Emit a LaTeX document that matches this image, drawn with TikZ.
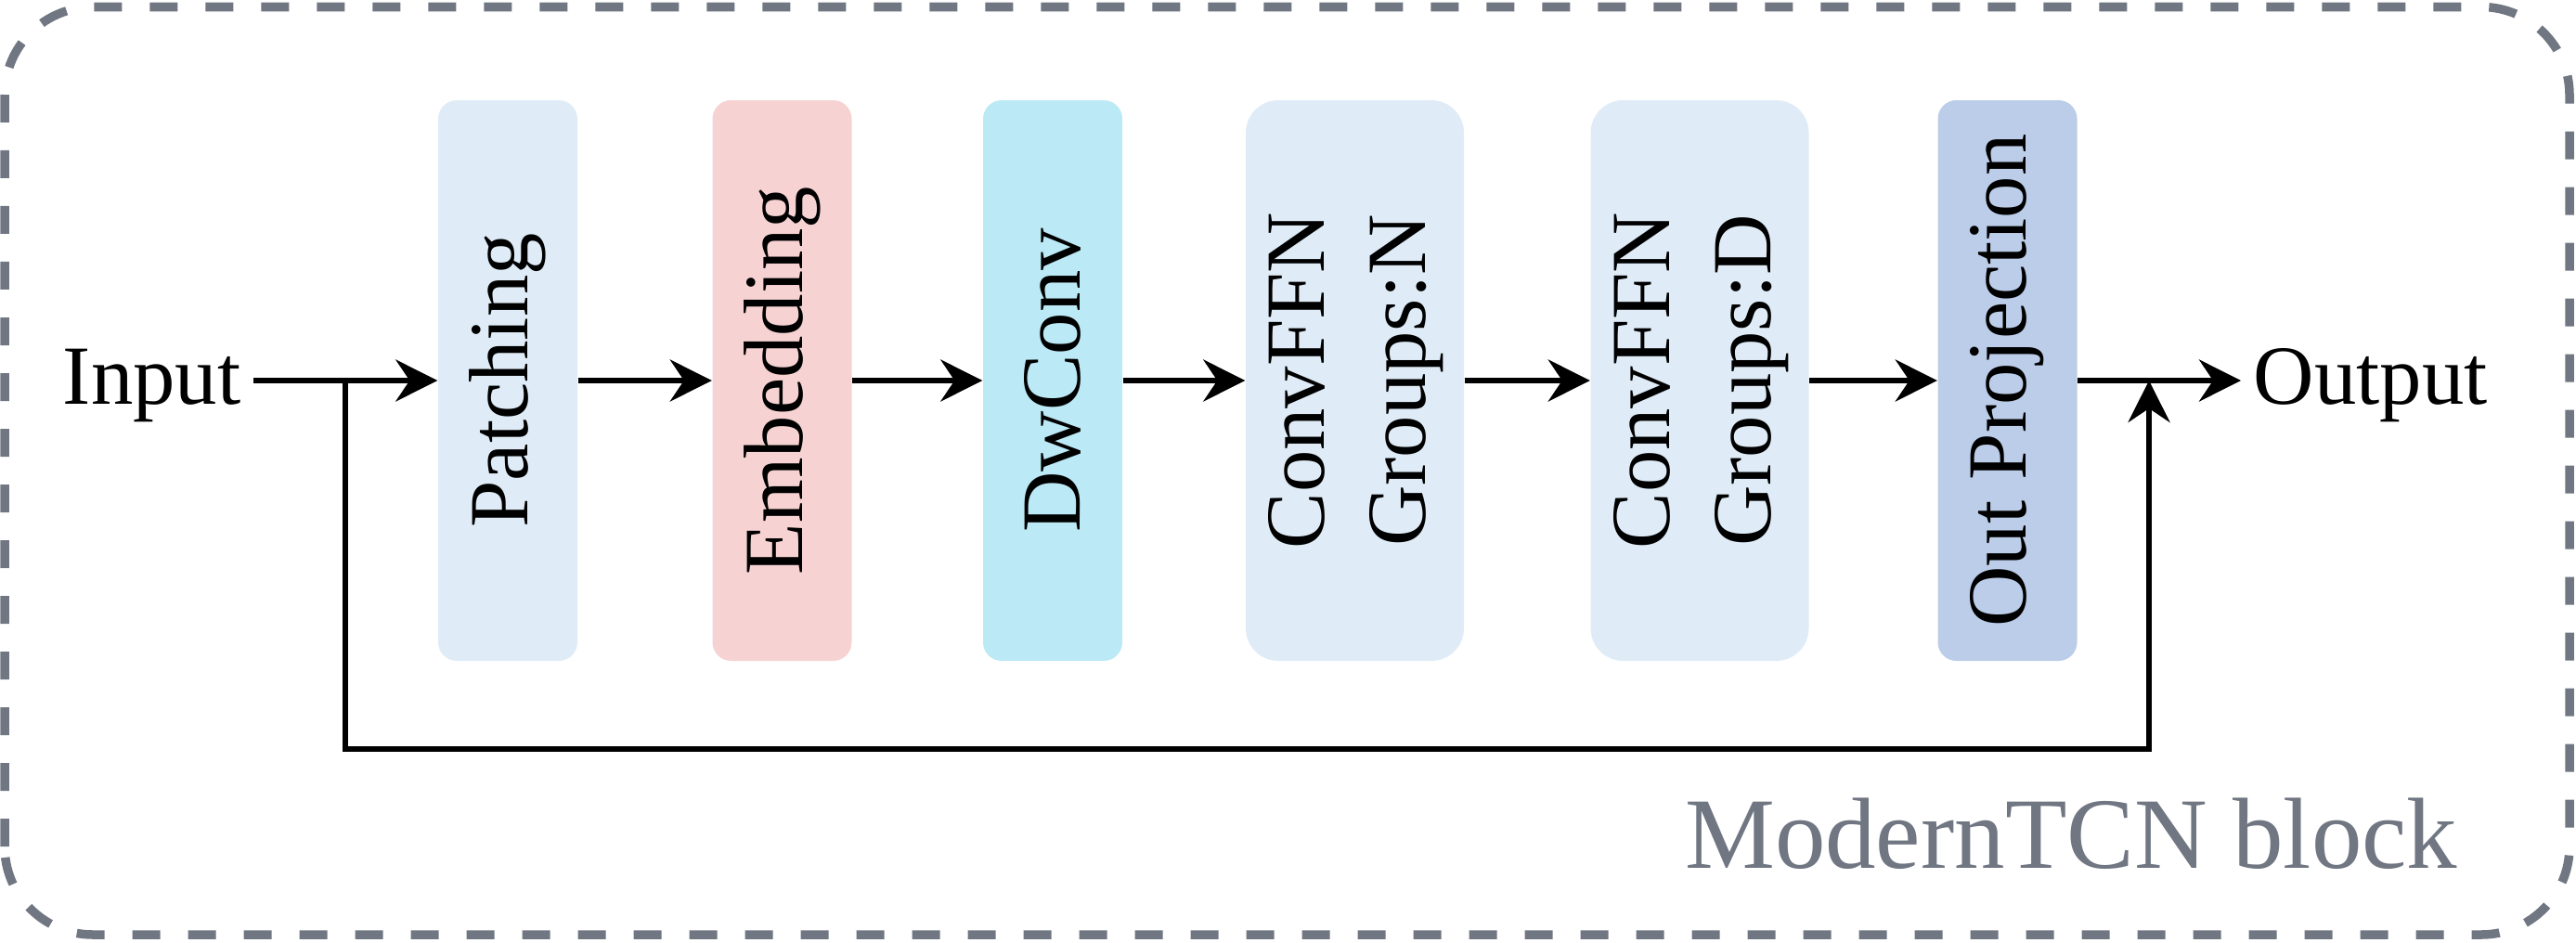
\documentclass[tikz,border=0pt]{standalone}
\usepackage{xcolor}
\usepackage{graphicx}
\usepackage{fontspec}
\setmainfont{Liberation Serif}
\usetikzlibrary{arrows.meta, positioning}

\definecolor{frameGray}{RGB}{112,118,130}
\definecolor{patchBlue}{RGB}{223,236,247}
\definecolor{embedPink}{RGB}{247,210,210}
\definecolor{convCyan}{RGB}{188,233,246}
\definecolor{projBlue}{RGB}{187,205,232}

\begin{document}
\begin{tikzpicture}[
    font=\fontsize{25.8}{31}\selectfont,
    block/.style={rectangle, minimum height=6.04cm, inner sep=0pt, rounded corners=0.2cm},
    narrow/.style={block, minimum width=1.5cm},
    wide/.style={block, minimum width=2.35cm, rounded corners=0.35cm},
    link/.style={line width=0.06cm, -{Stealth[length=0.45cm, width=0.45cm, inset=0.15cm]}},
    lbl/.style={inner xsep=0.13cm, inner ysep=0pt}
]
    \useasboundingbox (0,0) rectangle (27.75,10.15);

    % Block frame
    \draw[frameGray, line width=0.095cm, dash pattern=on 0.3cm off 0.3cm, rounded corners=0.95cm] (0.05,0.08) rectangle (27.68,10.075);
    \node[frameGray, anchor=base east, inner sep=0pt, font=\fontsize{31}{37}\selectfont] (title) at (26.48,0.80) {ModernTCN block};

    % Components
    \node[narrow, fill=patchBlue] (patch) at (5.47,6.05) {\rotatebox{90}{Patching}};
    \node[narrow, fill=embedPink] (embed) at (8.425,6.05) {\rotatebox{90}{Embedding}};
    \node[narrow, fill=convCyan] (dw) at (11.34,6.05) {\rotatebox{90}{DwConv}};
    \node[wide, fill=patchBlue] (ffnN) at (14.595,6.05) {\rotatebox{90}{\begin{tabular}{@{}c@{}}ConvFFN\\Groups:N\end{tabular}}};
    \node[wide, fill=patchBlue] (ffnD) at (18.31,6.05) {\rotatebox{90}{\begin{tabular}{@{}c@{}}ConvFFN\\Groups:D\end{tabular}}};
    \node[narrow, fill=projBlue] (proj) at (21.625,6.05) {\rotatebox{90}{Out Projection}};

    % Labels
    \node[lbl, anchor=base east] (inp) at (2.73,5.80) {Input};
    \node[lbl, anchor=base west] (outp) at (24.14,5.80) {Output};

    % Connections
    \draw[link] (inp.east |- patch.west) -- (patch.west);
    \draw[link] (patch) -- (embed);
    \draw[link] (embed) -- (dw);
    \draw[link] (dw) -- (ffnN);
    \draw[link] (ffnN) -- (ffnD);
    \draw[link] (ffnD) -- (proj);
    \draw[link] (proj) -- (proj.east -| outp.west);

    % Residual path
    \coordinate (split) at (3.72,6.05);
    \coordinate (low) at (3.72,2.08);
    \coordinate (merge) at (23.15,6.05);
    \draw[link] (split) -- (low) -| (merge);
\end{tikzpicture}
\end{document}
